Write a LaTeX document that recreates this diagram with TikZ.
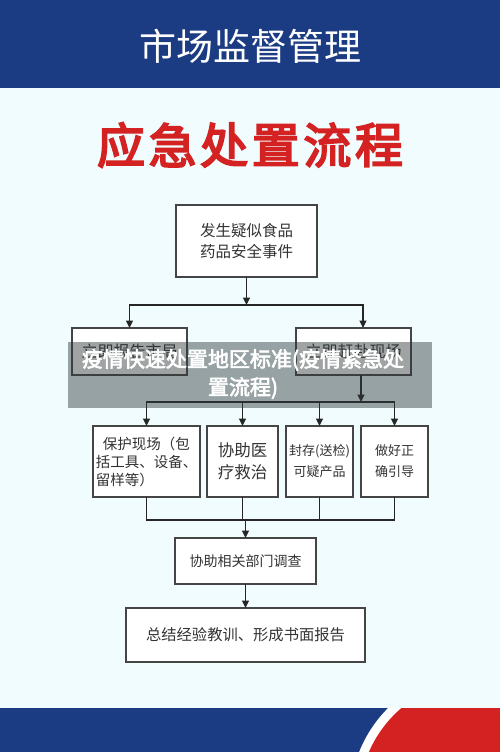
\documentclass[tikz,border=0pt]{standalone}
\usepackage{fontspec}
\usepackage{xcolor}
\usepackage{tikz}
\usetikzlibrary{arrows.meta, positioning}
\newfontfamily\cjk{Noto Sans CJK SC}
\newfontfamily\cjkheavy{Noto Sans CJK SC}[FakeBold=4]
\newfontfamily\cjkbold{Noto Sans CJK SC}[FakeBold=3]
\definecolor{navy}{HTML}{1B3C82}
\definecolor{alertred}{HTML}{D42222}
\definecolor{pagebg}{HTML}{F0FCFE}
\definecolor{boxline}{HTML}{454545}
\definecolor{boxtext}{HTML}{333333}
\definecolor{linkgrey}{HTML}{262626}
\definecolor{veil}{HTML}{2E3838}

\begin{document}
\begin{tikzpicture}[
    x=1pt, y=-1pt,
    box/.style={rectangle, draw=boxline, fill=white, line width=1.2pt,
                inner sep=0pt, outer sep=0pt, align=center, text=boxtext,
                font=\cjk\fontsize{15.5}{21}\selectfont},
    headline/.style={inner sep=0pt, text=alertred,
                     font=\cjkheavy\fontsize{48}{50}\selectfont},
    arrow/.style={-{Triangle[length=7.5pt, width=7pt]}, line width=1.4pt, linkgrey},
    wire/.style={line width=1.4pt, linkgrey},
  ]
  \useasboundingbox (0,0) rectangle (500,752);
  \fill[pagebg] (0,0) rectangle (500,752);

  % header
  \fill[navy] (0,0) rectangle (500,88);
  \node[white, font=\cjk\fontsize{37}{40}\selectfont] (agency) at (250,46) {市场监督管理};
  \foreach \ch [count=\i from 0] in {应,急,处,置,流,程}
    \node[headline] (head\i) at ({121+\i*51.6},145) {\ch};

  % steps
  \node[box, minimum width=141pt, minimum height=72pt] (event) at (246.5,241) {发生疑似食品\\药品安全事件};
  \node[box, minimum width=115pt, minimum height=47pt, font=\cjk\fontsize{16}{20}\selectfont] (report) at (129.5,351.5) {立即报告市局};
  \node[box, minimum width=115pt, minimum height=47pt, font=\cjk\fontsize{16}{20}\selectfont] (rush) at (353.5,351.5) {立即赶赴现场};
  \node[box, minimum width=107pt, minimum height=71pt, align=left, font=\cjk\fontsize{14.5}{18}\selectfont] (protect) at (146.5,461.5) {\hspace*{7pt}保护现场（包\\括工具、设备、\\留样等）};
  \node[box, minimum width=71pt, minimum height=71pt, font=\cjk\fontsize{16.5}{22}\selectfont] (medical) at (242.5,461.5) {协助医\\疗救治};
  \node[box, minimum width=67pt, minimum height=71pt, font=\cjk\fontsize{13}{21}\selectfont] (seal) at (319.5,461.5) {封存(送检)\\可疑产品};
  \node[box, minimum width=67pt, minimum height=71pt, font=\cjk\fontsize{13}{21}\selectfont] (guide) at (394.5,461.5) {做好正\\确引导};
  \node[box, minimum width=141pt, minimum height=46pt, font=\cjk\fontsize{14}{18}\selectfont] (assist) at (245.5,561) {协助相关部门调查};
  \node[box, minimum width=239pt, minimum height=54pt, font=\cjk\fontsize{15.3}{18}\selectfont] (summary) at (245.5,635) {总结经验教训、形成书面报告};

  % links
  \coordinate (fork1) at (246.5,305);
  \coordinate (rushin) at ([xshift=9.5pt]rush.north);
  \coordinate (rushout) at ([xshift=7.5pt]rush.south);
  \coordinate (fork2) at (361,402);
  \coordinate (fork3) at (245.5,520);
  \draw[arrow] (event) -- (fork1);
  \draw[arrow] (fork1) -| (report.north);
  \draw[arrow] (fork1) -| (rushin);
  \draw[arrow] (rushout) -- (fork2);
  \draw[arrow] (fork2) -| (protect.north);
  \draw[arrow] (fork2) -| (guide.north);
  \foreach \b in {medical,seal}
    \draw[arrow] (\b.north |- fork2) -- (\b.north);
  \draw[wire] (protect.south) |- (fork3) -| (guide.south);
  \foreach \b in {medical,seal}
    \draw[wire] (\b.south) -- (\b.south |- fork3);
  \draw[arrow] (fork3) -- (assist.north);
  \draw[arrow] (assist) -- (summary);

  % caption band
  \fill[veil, opacity=0.46] (68,342) rectangle (432,408);
  \node[white, align=center, font=\cjkbold\fontsize{21}{28}\selectfont] (caption) at (243,374) {疫情快速处置地区标准(疫情紧急处\\置流程)};

  % footer
  \begin{scope}
    \clip (0,708) rectangle (500,752);
    \fill[navy] (0,708) rectangle (500,752);
    \fill[white] (480,800) circle[radius=130];
    \fill[alertred] (480,800) circle[radius=121];
  \end{scope}
\end{tikzpicture}
\end{document}
